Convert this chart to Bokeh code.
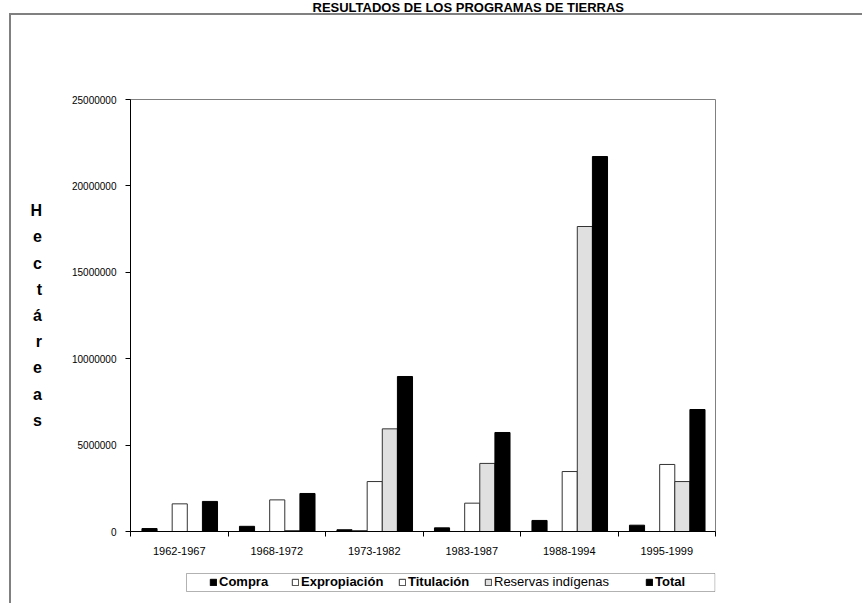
from bokeh.plotting import figure
from bokeh.layouts import column
from bokeh.models import (Range1d, FixedTicker, SingleIntervalTicker, BasicTickFormatter,
                          Legend, LegendItem, ColumnDataSource, Title, BoxAnnotation)
from bokeh.embed import file_html
from bokeh.resources import INLINE

# Hectáreas por período y programa
periodos = ["1962-1967", "1968-1972", "1973-1982", "1983-1987", "1988-1994", "1995-1999"]
compra = [170000, 300000, 100000, 210000, 640000, 365000]
expropiacion = [0, 0, 50000, 0, 0, 0]
titulacion = [1600000, 1830000, 2890000, 1640000, 3470000, 3880000]
reservas = [0, 50000, 5940000, 3940000, 17650000, 2890000]
total = [1740000, 2200000, 8970000, 5730000, 21700000, 7060000]

series = [
    ("Compra", compra, "black", "black"),
    ("Expropiación", expropiacion, "white", "#333333"),
    ("Titulación", titulacion, "white", "#333333"),
    ("Reservas indígenas", reservas, "#e0e0e0", "#333333"),
    ("Total", total, "black", "black"),
]

FONT = "Liberation Sans"
RULE = "#808080"

p = figure(width=862, height=565, x_range=Range1d(0, len(periodos)), y_range=Range1d(0, 25000000),
           output_backend="svg", toolbar_location=None,
           min_border_left=130, min_border_right=147, min_border_top=99, min_border_bottom=34)
p.background_fill_color = "white"
p.border_fill_alpha = 0
p.outline_line_color = RULE
p.outline_line_width = 1
p.xgrid.visible = False
p.ygrid.visible = False

# top and left rules of the chart sheet
p.styles = {
    "background": (f"linear-gradient({RULE}, {RULE}) 10px 13px / 100% 2px no-repeat, "
                   f"linear-gradient({RULE}, {RULE}) 9px 13px / 2px 100% no-repeat, white"),
}

# title, kept at the very top by a blank spacer between it and the plot area
p.title.text = ""
p.add_layout(Title(text=" ", text_font_size="1px", standoff=81), "above")
p.add_layout(Title(text="RESULTADOS DE LOS PROGRAMAS DE TIERRAS", align="left", offset=182,
                   standoff=-2, vertical_align="top",
                   text_font=FONT, text_font_style="bold", text_font_size="13px",
                   text_color="black"), "above")

bar_w = 0.155
first = 0.195
sources = []
for k, (name, vals, fill, line) in enumerate(series):
    xs = [i + first + k * bar_w for i in range(len(periodos))]
    src = ColumnDataSource(dict(x=xs, top=vals))
    sources.append(src)
    p.vbar(x="x", top="top", bottom=0, width=bar_w, source=src,
           fill_color=fill, line_color=line, line_width=1)

# x axis: labels centred in each period, ticks at the period boundaries
xa = p.xaxis[0]
xa.ticker = FixedTicker(ticks=[i + 0.5 for i in range(len(periodos))],
                        minor_ticks=list(range(len(periodos) + 1)))
xa.major_label_overrides = {i + 0.5: lab for i, lab in enumerate(periodos)}
xa.major_tick_out = 0
xa.major_tick_in = 0
xa.minor_tick_out = 5
xa.minor_tick_in = 0
xa.minor_tick_line_color = "black"
xa.axis_line_color = "black"
xa.major_label_standoff = 10
xa.major_label_text_font = FONT
xa.major_label_text_font_size = "11px"
xa.major_label_text_color = "black"

ya = p.yaxis[0]
ya.ticker = SingleIntervalTicker(interval=5000000, num_minor_ticks=0)
ya.formatter = BasicTickFormatter(use_scientific=False)
ya.major_tick_out = 5
ya.major_tick_in = 0
ya.minor_tick_out = 0
ya.minor_tick_in = 0
ya.axis_line_color = "black"
ya.major_tick_line_color = "black"
ya.major_label_standoff = 9
ya.major_label_text_font = FONT
ya.major_label_text_font_size = "10px"
ya.major_label_text_color = "black"
# stacked vertical axis title
ya.axis_label = "H\ne\nc\nt\ná\nr\ne\na\ns"
ya.axis_label_orientation = "horizontal"
ya.axis_label_text_align = "center"
ya.axis_label_standoff = 27
ya.axis_label_text_font = FONT
ya.axis_label_text_font_style = "bold"
ya.axis_label_text_font_size = "16px"
ya.axis_label_text_line_height = 1.54
ya.axis_label_text_color = "black"

# legend strip below the chart; its frame lines up with the chart's, x in page pixels
FRAME_LEFT, FRAME_RIGHT = 130, 715
leg = figure(width=862, height=38, x_range=Range1d(FRAME_LEFT, FRAME_RIGHT), y_range=Range1d(0, 38),
             x_axis_type=None, y_axis_type=None, output_backend="svg", toolbar_location=None,
             min_border=0)
leg.outline_line_color = None
leg.background_fill_alpha = 0
leg.border_fill_alpha = 0
leg.styles = {"background": (f"linear-gradient({RULE}, {RULE}) 9px 0 / 2px 100% no-repeat, white")}

leg.add_layout(BoxAnnotation(left=186, right=714.5, bottom=12, top=30,
                             fill_color="white", fill_alpha=1,
                             line_color="black", line_width=1))

item_x = [209, 291, 398, 484, 645]
item_style = ["bold", "bold", "bold", "normal", "bold"]
for (name, vals, fill, line), src, x0, style in zip(series, sources, item_x, item_style):
    # hidden copy of each series, used only for its legend key
    r = leg.vbar(x="x", top="top", bottom=0, width=bar_w, source=src,
                 fill_color=fill, line_color=line, line_width=1, visible=False)
    leg.add_layout(Legend(items=[LegendItem(label=name, renderers=[r])],
                          location=(x0 - FRAME_LEFT, 14), orientation="horizontal",
                          click_policy="none",
                          glyph_width=8, glyph_height=8, label_standoff=2,
                          padding=0, margin=0, label_height=14,
                          label_text_font=FONT, label_text_font_style=style,
                          label_text_font_size="13px", label_text_color="black",
                          border_line_color=None, background_fill_alpha=0))

open("out.html", "w").write(file_html(column(p, leg), INLINE))
